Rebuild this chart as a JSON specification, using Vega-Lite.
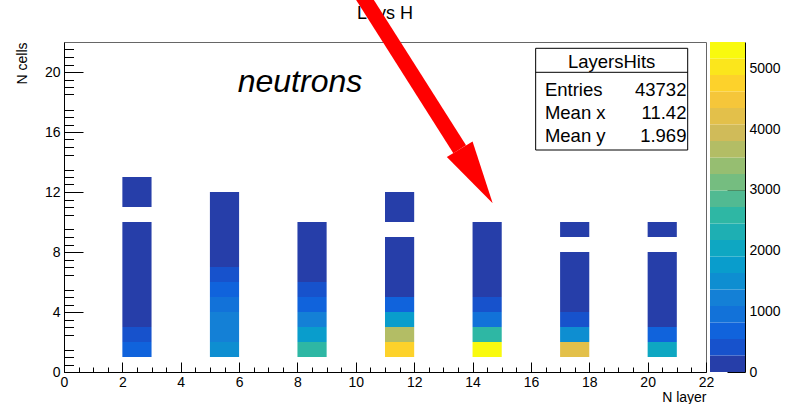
{
  "$schema": "https://vega.github.io/schema/vega-lite/v6.json",
  "width": 642,
  "height": 330,
  "autosize": "none",
  "padding": {"left": 64, "top": 42, "right": 95, "bottom": 32},
  "background": "white",
  "config": {
    "view": {"stroke": "#666666", "strokeWidth": 1},
    "text": {"font": "Liberation Sans"},
    "axis": {"labelFont": "Liberation Sans", "titleFont": "Liberation Sans", "labelColor": "black", "titleColor": "black", "tickColor": "black", "domainColor": "black", "grid": false, "labelOverlap": false, "labelFlush": false, "labelSeparation": -100, "labelBound": false}
  },
  "datasets": {
    "hits": [
      {"layer": 2, "cell": 1, "hits": 760}, {"layer": 2, "cell": 2, "hits": 330}, {"layer": 2, "cell": 3, "hits": 180}, {"layer": 2, "cell": 4, "hits": 100}, {"layer": 2, "cell": 5, "hits": 60}, {"layer": 2, "cell": 6, "hits": 35}, {"layer": 2, "cell": 7, "hits": 20}, {"layer": 2, "cell": 8, "hits": 10}, {"layer": 2, "cell": 9, "hits": 5}, {"layer": 2, "cell": 11, "hits": 3}, {"layer": 2, "cell": 12, "hits": 2},
      {"layer": 5, "cell": 1, "hits": 1620}, {"layer": 5, "cell": 2, "hits": 1340}, {"layer": 5, "cell": 3, "hits": 1300}, {"layer": 5, "cell": 4, "hits": 830}, {"layer": 5, "cell": 5, "hits": 560}, {"layer": 5, "cell": 6, "hits": 290}, {"layer": 5, "cell": 7, "hits": 150}, {"layer": 5, "cell": 8, "hits": 80}, {"layer": 5, "cell": 9, "hits": 40}, {"layer": 5, "cell": 10, "hits": 15}, {"layer": 5, "cell": 11, "hits": 5},
      {"layer": 8, "cell": 1, "hits": 2700}, {"layer": 8, "cell": 2, "hits": 1880}, {"layer": 8, "cell": 3, "hits": 1100}, {"layer": 8, "cell": 4, "hits": 560}, {"layer": 8, "cell": 5, "hits": 290}, {"layer": 8, "cell": 6, "hits": 150}, {"layer": 8, "cell": 7, "hits": 60}, {"layer": 8, "cell": 8, "hits": 20}, {"layer": 8, "cell": 9, "hits": 5},
      {"layer": 11, "cell": 1, "hits": 4880}, {"layer": 11, "cell": 2, "hits": 3540}, {"layer": 11, "cell": 3, "hits": 1640}, {"layer": 11, "cell": 4, "hits": 560}, {"layer": 11, "cell": 5, "hits": 200}, {"layer": 11, "cell": 6, "hits": 90}, {"layer": 11, "cell": 7, "hits": 30}, {"layer": 11, "cell": 8, "hits": 10}, {"layer": 11, "cell": 10, "hits": 3}, {"layer": 11, "cell": 11, "hits": 1},
      {"layer": 14, "cell": 1, "hits": 5433}, {"layer": 14, "cell": 2, "hits": 2460}, {"layer": 14, "cell": 3, "hits": 830}, {"layer": 14, "cell": 4, "hits": 290}, {"layer": 14, "cell": 5, "hits": 150}, {"layer": 14, "cell": 6, "hits": 60}, {"layer": 14, "cell": 7, "hits": 25}, {"layer": 14, "cell": 8, "hits": 10}, {"layer": 14, "cell": 9, "hits": 3},
      {"layer": 17, "cell": 1, "hits": 4340}, {"layer": 17, "cell": 2, "hits": 1400}, {"layer": 17, "cell": 3, "hits": 300}, {"layer": 17, "cell": 4, "hits": 120}, {"layer": 17, "cell": 5, "hits": 50}, {"layer": 17, "cell": 6, "hits": 20}, {"layer": 17, "cell": 7, "hits": 5}, {"layer": 17, "cell": 9, "hits": 2},
      {"layer": 20, "cell": 1, "hits": 2100}, {"layer": 20, "cell": 2, "hits": 600}, {"layer": 20, "cell": 3, "hits": 150}, {"layer": 20, "cell": 4, "hits": 60}, {"layer": 20, "cell": 5, "hits": 25}, {"layer": 20, "cell": 6, "hits": 10}, {"layer": 20, "cell": 7, "hits": 3}, {"layer": 20, "cell": 9, "hits": 1}
    ],
    "palette": [
      {"lo": 0, "hi": 271.65, "mid": 135.8}, {"lo": 271.65, "hi": 543.3, "mid": 407.5}, {"lo": 543.3, "hi": 814.95, "mid": 679.1}, {"lo": 814.95, "hi": 1086.6, "mid": 950.8},
      {"lo": 1086.6, "hi": 1358.25, "mid": 1222.4}, {"lo": 1358.25, "hi": 1629.9, "mid": 1494.1}, {"lo": 1629.9, "hi": 1901.55, "mid": 1765.7}, {"lo": 1901.55, "hi": 2173.2, "mid": 2037.4},
      {"lo": 2173.2, "hi": 2444.85, "mid": 2309.0}, {"lo": 2444.85, "hi": 2716.5, "mid": 2580.7}, {"lo": 2716.5, "hi": 2988.15, "mid": 2852.3}, {"lo": 2988.15, "hi": 3259.8, "mid": 3124.0},
      {"lo": 3259.8, "hi": 3531.45, "mid": 3395.6}, {"lo": 3531.45, "hi": 3803.1, "mid": 3667.3}, {"lo": 3803.1, "hi": 4074.75, "mid": 3938.9}, {"lo": 4074.75, "hi": 4346.4, "mid": 4210.6},
      {"lo": 4346.4, "hi": 4618.05, "mid": 4482.2}, {"lo": 4618.05, "hi": 4889.7, "mid": 4753.9}, {"lo": 4889.7, "hi": 5161.35, "mid": 5025.5}, {"lo": 5161.35, "hi": 5433, "mid": 5297.2}
    ]
  },
  "layer": [
    {
      "data": {"name": "hits"},
      "mark": {"type": "point", "opacity": 0},
      "encoding": {
        "x": {"field": "layer", "type": "quantitative", "scale": {"domain": [0, 22], "nice": false, "zero": false},
          "axis": {"orient": "bottom", "title": null, "labels": false, "domain": false, "values": [0.5,1,1.5,2.5,3,3.5,4.5,5,5.5,6.5,7,7.5,8.5,9,9.5,10.5,11,11.5,12.5,13,13.5,14.5,15,15.5,16.5,17,17.5,18.5,19,19.5,20.5,21,21.5], "tickSize": -5}},
        "y": {"field": "cell", "type": "quantitative", "scale": {"domain": [0, 22], "nice": false, "zero": false},
          "axis": {"orient": "left", "title": null, "labels": false, "domain": false, "values": [0.5,1,1.5,2.5,3,3.5,4.5,5,5.5,6.5,7,7.5,8.5,9,9.5,10.5,11,11.5,12.5,13,13.5,14.5,15,15.5,16.5,17,17.5,18.5,19,19.5,20.5,21,21.5], "tickSize": -9.5}}
      }
    },
    {
      "layer": [
        {
          "data": {"name": "hits"},
          "transform": [
            {"calculate": "datum.layer + 1", "as": "layer_end"},
            {"calculate": "datum.cell + 1", "as": "cell_end"}
          ],
          "mark": {"type": "rect"},
          "encoding": {
            "x": {"field": "layer", "type": "quantitative", "scale": {"domain": [0, 22], "nice": false, "zero": false},
              "axis": {"orient": "bottom", "title": "N layer", "values": [0,2,4,6,8,10,12,14,16,18,20,22], "tickSize": -10, "labelPadding": 13, "labelFontSize": 14,
                "labelOverlap": false, "labelFlush": false, "labelSeparation": -100, "labelBound": false,
                "titleFontSize": 14, "titleFontWeight": "normal", "titleAnchor": "end", "titleAlign": "right", "titleBaseline": "alphabetic", "titleX": 642, "titleY": 29}},
            "x2": {"field": "layer_end"},
            "y": {"field": "cell", "type": "quantitative", "scale": {"domain": [0, 22], "nice": false, "zero": false},
              "axis": {"orient": "left", "title": "N cells", "values": [0,2,4,6,8,10,12,14,16,18,20,22], "tickSize": -19, "labelPadding": 23, "labelFontSize": 14,
                "labelOverlap": false, "labelFlush": false, "labelSeparation": -100, "labelBound": false,
                "titleFontSize": 14, "titleFontWeight": "normal", "titleAngle": -90, "titleAlign": "right", "titleBaseline": "alphabetic", "titleX": -38, "titleY": 0}},
            "y2": {"field": "cell_end"},
            "color": {"field": "hits", "type": "quantitative", "legend": null,
              "scale": {"type": "quantize", "domain": [0, 5433], "nice": false, "zero": false,
                "range": ["#263ea9","#1752cc","#1063dc","#1272d9","#1480d6","#0e8ed1","#099dcc","#0ea7c2","#1eafb3","#2eb7a4","#51ba92","#75bd80","#96be71","#b3bd65","#d0bb59","#e3c04a","#f5c63a","#fdd22b","#fbe61c","#f9fa0e"]}}
          }
        },
        {
          "data": {"values": [{}]},
          "mark": {"type": "text", "text": "neutrons", "fontSize": 32, "fontStyle": "italic", "align": "center", "baseline": "alphabetic", "color": "black"},
          "encoding": {"x": {"datum": 8.087}, "y": {"datum": 18.687}}
        },
        {
          "data": {"values": [{}]},
          "mark": {"type": "text", "text": "Lays H", "fontSize": 18, "align": "center", "baseline": "alphabetic", "color": "black"},
          "encoding": {"x": {"datum": 11.0}, "y": {"datum": 23.513}}
        },
        {
          "data": {"values": [{}]},
          "mark": {"type": "rect", "fill": "white", "stroke": "black", "strokeWidth": 1},
          "encoding": {"x": {"datum": 16.163}, "x2": {"datum": 21.373}, "y": {"datum": 21.58}, "y2": {"datum": 14.8}}
        },
        {
          "data": {"values": [{}]},
          "mark": {"type": "rule", "stroke": "black", "strokeWidth": 1},
          "encoding": {"x": {"datum": 16.163}, "x2": {"datum": 21.373}, "y": {"datum": 19.98}}
        },
        {
          "data": {"values": [{}]},
          "mark": {"type": "text", "text": "LayersHits", "fontSize": 18.5, "align": "center", "baseline": "alphabetic", "color": "black"},
          "encoding": {"x": {"datum": 18.766}, "y": {"datum": 20.267}}
        },
        {
          "data": {"values": [{}]},
          "mark": {"type": "text", "text": ["Entries", "Mean x", "Mean y"], "lineHeight": 23, "fontSize": 18.5, "align": "left", "baseline": "alphabetic", "color": "black"},
          "encoding": {"x": {"datum": 16.48}, "y": {"datum": 18.4}}
        },
        {
          "data": {"values": [{}]},
          "mark": {"type": "text", "text": ["43732", "11.42", "1.969"], "lineHeight": 23, "fontSize": 18.5, "align": "right", "baseline": "alphabetic", "color": "black"},
          "encoding": {"x": {"datum": 21.33}, "y": {"datum": 18.4}}
        },
        {
          "data": {"values": [{}]},
          "mark": {"type": "rule", "stroke": "#ff0000", "strokeWidth": 15, "strokeCap": "butt"},
          "encoding": {"x": {"datum": 9.828}, "x2": {"datum": 13.56}, "y": {"datum": 26.293}, "y2": {"datum": 14.853}}
        },
        {
          "data": {"values": [{}]},
          "mark": {"type": "point", "shape": "M0,1L-0.476,-1L0.476,-1Z", "size": 4007, "angle": 328.6, "filled": true, "fill": "#ff0000", "opacity": 1, "strokeWidth": 0},
          "encoding": {"x": {"datum": 14.125}, "y": {"datum": 13.05}}
        }
      ]
    },
    {
      "data": {"name": "palette"},
      "mark": {"type": "rect"},
      "encoding": {
        "x": {"datum": 22.137, "scale": {"domain": [0, 22], "nice": false, "zero": false}, "axis": null},
        "x2": {"datum": 23.337},
        "y": {"field": "lo", "type": "quantitative", "scale": {"domain": [0, 5433], "nice": false, "zero": false},
          "axis": {"orient": "right", "offset": 39, "values": [0, 1000, 2000, 3000, 4000, 5000], "format": "d", "tickSize": -18, "title": null, "labelFontSize": 14, "labelPadding": 22, "labelFlush": false, "labelOverlap": false}},
        "y2": {"field": "hi"},
        "color": {"field": "mid", "type": "quantitative", "legend": null,
          "scale": {"type": "quantize", "domain": [0, 5433], "nice": false, "zero": false,
            "range": ["#263ea9","#1752cc","#1063dc","#1272d9","#1480d6","#0e8ed1","#099dcc","#0ea7c2","#1eafb3","#2eb7a4","#51ba92","#75bd80","#96be71","#b3bd65","#d0bb59","#e3c04a","#f5c63a","#fdd22b","#fbe61c","#f9fa0e"]}}
      }
    }
  ],
  "resolve": {"scale": {"x": "independent", "y": "independent"}, "axis": {"x": "independent", "y": "independent"}}
}
